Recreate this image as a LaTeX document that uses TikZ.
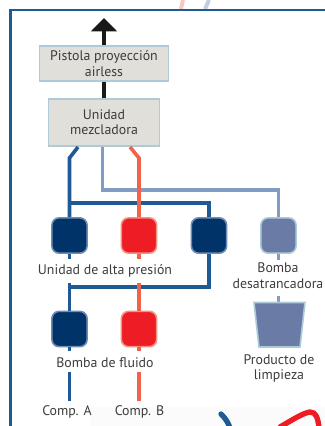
\documentclass[tikz,border=0pt]{standalone}
\usepackage{fontspec}
\usetikzlibrary{arrows.meta}
\setmainfont{PT Sans}
\definecolor{navy}{HTML}{003468}
\definecolor{pipeblue}{HTML}{1F5A94}
\definecolor{pipered}{HTML}{F0634A}
\definecolor{pipelight}{HTML}{839CC4}
\definecolor{fillred}{HTML}{EE1C25}
\definecolor{fillslate}{HTML}{6A7CA6}
\definecolor{boxfill}{HTML}{E0DFD9}
\definecolor{boxline}{HTML}{AECAD8}
\definecolor{txt}{HTML}{3C3C3C}
\tikzset{
  x=0.75pt,y=-0.75pt,
  pipe/.style={line width=2.7pt,line join=miter},
  bluepipe/.style={pipe,draw=pipeblue},
  redpipe/.style={pipe,draw=pipered},
  lightpipe/.style={pipe,draw=pipelight},
  box/.style={draw=boxline,fill=boxfill,line width=1.2pt,inner sep=0pt,align=center,font=\fontsize{10.4}{11.4}\selectfont,text=txt},
  pump/.style={rounded corners=5.5pt,line width=1.2pt,minimum width=26.5pt,minimum height=26.5pt,inner sep=0pt},
  bluepump/.style={pump,draw=pipelight!85!navy,fill=navy},
  redpump/.style={pump,draw=pipered!70!white,fill=fillred},
  slatepump/.style={pump,draw=boxline,fill=fillslate},
  lbl/.style={font=\fontsize{10.4}{11.6}\selectfont,text=txt,align=center,inner sep=0pt},
}
\begin{document}
\begin{tikzpicture}
\useasboundingbox (0,0) rectangle (325,426);
% faint background of the next figure and its curves
\fill[black!1.5] (90,407) rectangle (325,426);
\draw[line width=4pt,draw=pipeblue,line cap=round] (221,414) .. controls (225,418) and (228,422) .. (230,428);
\draw[line width=4pt,draw=fillred,line cap=round] (280,427) .. controls (292,420) and (303,413) .. (310,412) .. controls (316,412) and (318,418) .. (319,428);
% stubs above frame
\draw[line width=3pt,draw=pipered!35!white] (183,0) -- (181,9);
\draw[line width=3pt,draw=pipelight!50!white] (209,0) -- (205,9);
% frame
\draw[line width=1.6pt,draw=pipeblue] (10.5,426) -- (10.5,9.7) -- (325,9.7);
% nodes
\node[box,minimum width=97pt,minimum height=26pt] (gun) at (104,63.5) {Pistola proyección\\airless};
\node[box,minimum width=83pt,minimum height=35pt] (mix) at (104,122.5) {Unidad\\mezcladora};
\node[bluepump] (hpa) at (69.5,235.5) {};
\node[redpump] (hpb) at (139,235.5) {};
\node[bluepump] (hpc) at (209,235.5) {};
\node[slatepump] (purge) at (278.5,235.5) {};
\node[bluepump] (fpa) at (69.5,329) {};
\node[redpump] (fpb) at (139,329) {};
\node[lbl] (hplabel) at (105,270.5) {Unidad de alta presión};
\node[lbl] (purgelabel) at (278,275.5) {Bomba\\desatrancadora};
\node[lbl] (fplabel) at (105,362.5) {Bomba de fluido};
\node[lbl] (cleanlabel) at (279,368.5) {Producto de\\limpieza};
\node[lbl] (compA) at (67,412) {Comp. A};
\node[lbl] (compB) at (139.5,412) {Comp. B};
% free ends
\coordinate (arrowtip) at (104,18);
\coordinate (mixA) at (78,147);
\coordinate (mixB) at (130,147);
\coordinate (mixL) at (102.5,147);
\coordinate (topbus) at (69.5,203);
\coordinate (lowbus) at (69.5,287);
% connectors
\draw[line width=3pt,draw=black!90,-{Triangle[length=10pt,width=19pt]}] (gun.north) -- (arrowtip);
\draw[line width=3pt,draw=black!90] (mix.north) -- (gun.south);
\draw[lightpipe] (mixL) -- (102.5,190) -- (278.5,190) -- (purge.north);
\draw[lightpipe] (purge.south) -- (278.5,260);
\draw[lightpipe] (278.5,296) -- (278.5,303);
\draw[bluepipe] (mixA) -- (69.5,158) -- (hpa.north);
\draw[bluepipe] (topbus) -- (209,203) -- (hpc.north);
\draw[bluepipe] (hpa.south) -- (69.5,259);
\draw[bluepipe] (69.5,283) -- (fpa.north);
\draw[bluepipe] (hpc.south) -- (209,287) -- (lowbus);
\draw[bluepipe] (fpa.south) -- (69.5,351);
\draw[bluepipe] (69.5,372) -- (69.5,401);
\draw[redpipe] (mixB) -- (139,158) -- (hpb.north);
\draw[redpipe] (hpb.south) -- (139,259);
\draw[redpipe] (139,283) -- (fpb.north);
\draw[redpipe] (fpb.south) -- (139,351);
\draw[redpipe] (139,372) -- (139,401);
% product container
\draw[draw=boxline,fill=fillslate,line width=1.2pt] (254,302.5) -- (305,302.5) -- (300,347) -- (259,347) -- cycle;
\end{tikzpicture}
\end{document}
